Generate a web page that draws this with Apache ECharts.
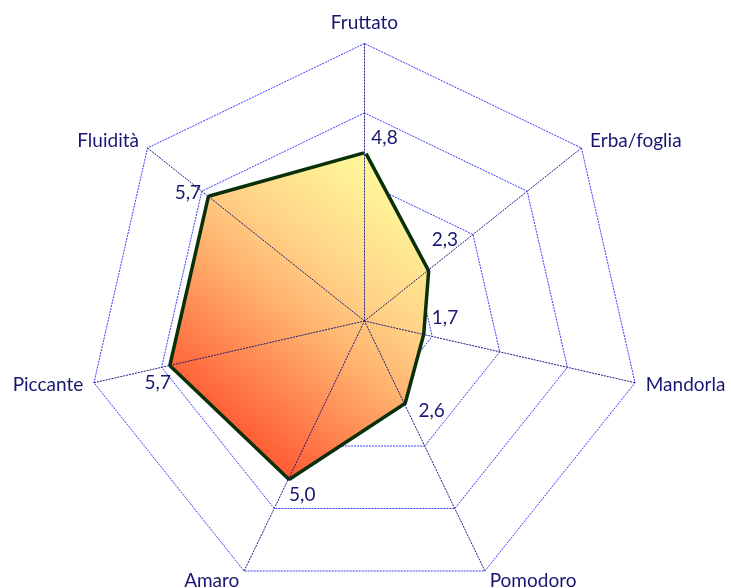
<!DOCTYPE html>
<html><head><meta charset="utf-8">
<script src="https://cdn.jsdelivr.net/npm/echarts@6/dist/echarts.min.js"></script>
<style>html,body{margin:0;padding:0;background:#fff}#c{width:731px;height:588px}</style>
</head><body><div id="c"></div>
<script>
var categories = ['Fruttato', 'Erba/foglia', 'Mandorla', 'Pomodoro', 'Amaro', 'Piccante', 'Fluidità'];
var values = [4.8, 2.3, 1.7, 2.6, 5.0, 5.7, 5.7];
var axisMax = 8;

var labelOffsets = [[20, -17], [18, -31], [23, -16], [28, 9], [13, 18], [-14, 18], [-22, -5]];
var center = [364.5, 321];
var radius = 277.5;
var textColor = '#171772';
var fontFamily = 'Lato, Open Sans, sans-serif';
var fontSize = 19;

function fmt(v) { return v.toFixed(1).replace('.', ','); }
// ECharts radar runs counter-clockwise; reorder so the picture runs clockwise
function cw(arr) { return [arr[0]].concat(arr.slice(1).reverse()); }

var chart = echarts.init(document.getElementById('c'), null, {renderer: 'canvas'});
chart.setOption({
  animation: false,
  radar: {
    center: center,
    radius: radius,
    startAngle: 90,
    shape: 'polygon',
    splitNumber: 4,
    indicator: cw(categories).map(function (n) { return {name: n, max: axisMax, min: 0}; }),
    axisName: {color: textColor, fontSize: fontSize, fontFamily: fontFamily},
    nameGap: 11,
    splitLine: {lineStyle: {color: '#3a3aff', width: 1, type: [2, 1]}},
    splitArea: {show: false},
    axisLine: {show: false}
  },
  polar: {center: center, radius: radius},
  angleAxis: {
    type: 'category', data: categories, startAngle: 90, boundaryGap: false, z: 4,
    axisLine: {show: false}, axisTick: {show: false}, axisLabel: {show: false},
    splitLine: {show: true, lineStyle: {color: '#1a1a80', width: 1, type: [2, 1]}}
  },
  radiusAxis: {min: 0, max: axisMax, show: false},
  series: [{
    type: 'radar',
    symbol: 'none',
    z: 2,
    lineStyle: {color: '#0a300a', width: 7},
    data: [{
      value: cw(values),
      lineStyle: {color: '#0a300a', width: 7},
      areaStyle: {
        opacity: 1,
        color: new echarts.graphic.LinearGradient(0, 1, 1, 0, [
          {offset: 0, color: '#ff3a1a'},
          {offset: 0.2, color: '#ff6238'},
          {offset: 0.5, color: '#ffb470'},
          {offset: 0.65, color: '#ffd488'},
          {offset: 0.85, color: '#fff296'},
          {offset: 1, color: '#ffff9c'}
        ])
      }
    }]
  }, {
    type: 'scatter',
    coordinateSystem: 'polar',
    symbolSize: 0,
    z: 5,
    itemStyle: {opacity: 1},
    data: values.map(function (v, i) {
      return {value: [v, categories[i]], label: {offset: labelOffsets[i]}};
    }),
    label: {
      show: true, position: 'inside', color: textColor, fontSize: fontSize, fontFamily: fontFamily,
      formatter: function (p) { return fmt(p.value[0]); }
    }
  }]
});
</script></body></html>
